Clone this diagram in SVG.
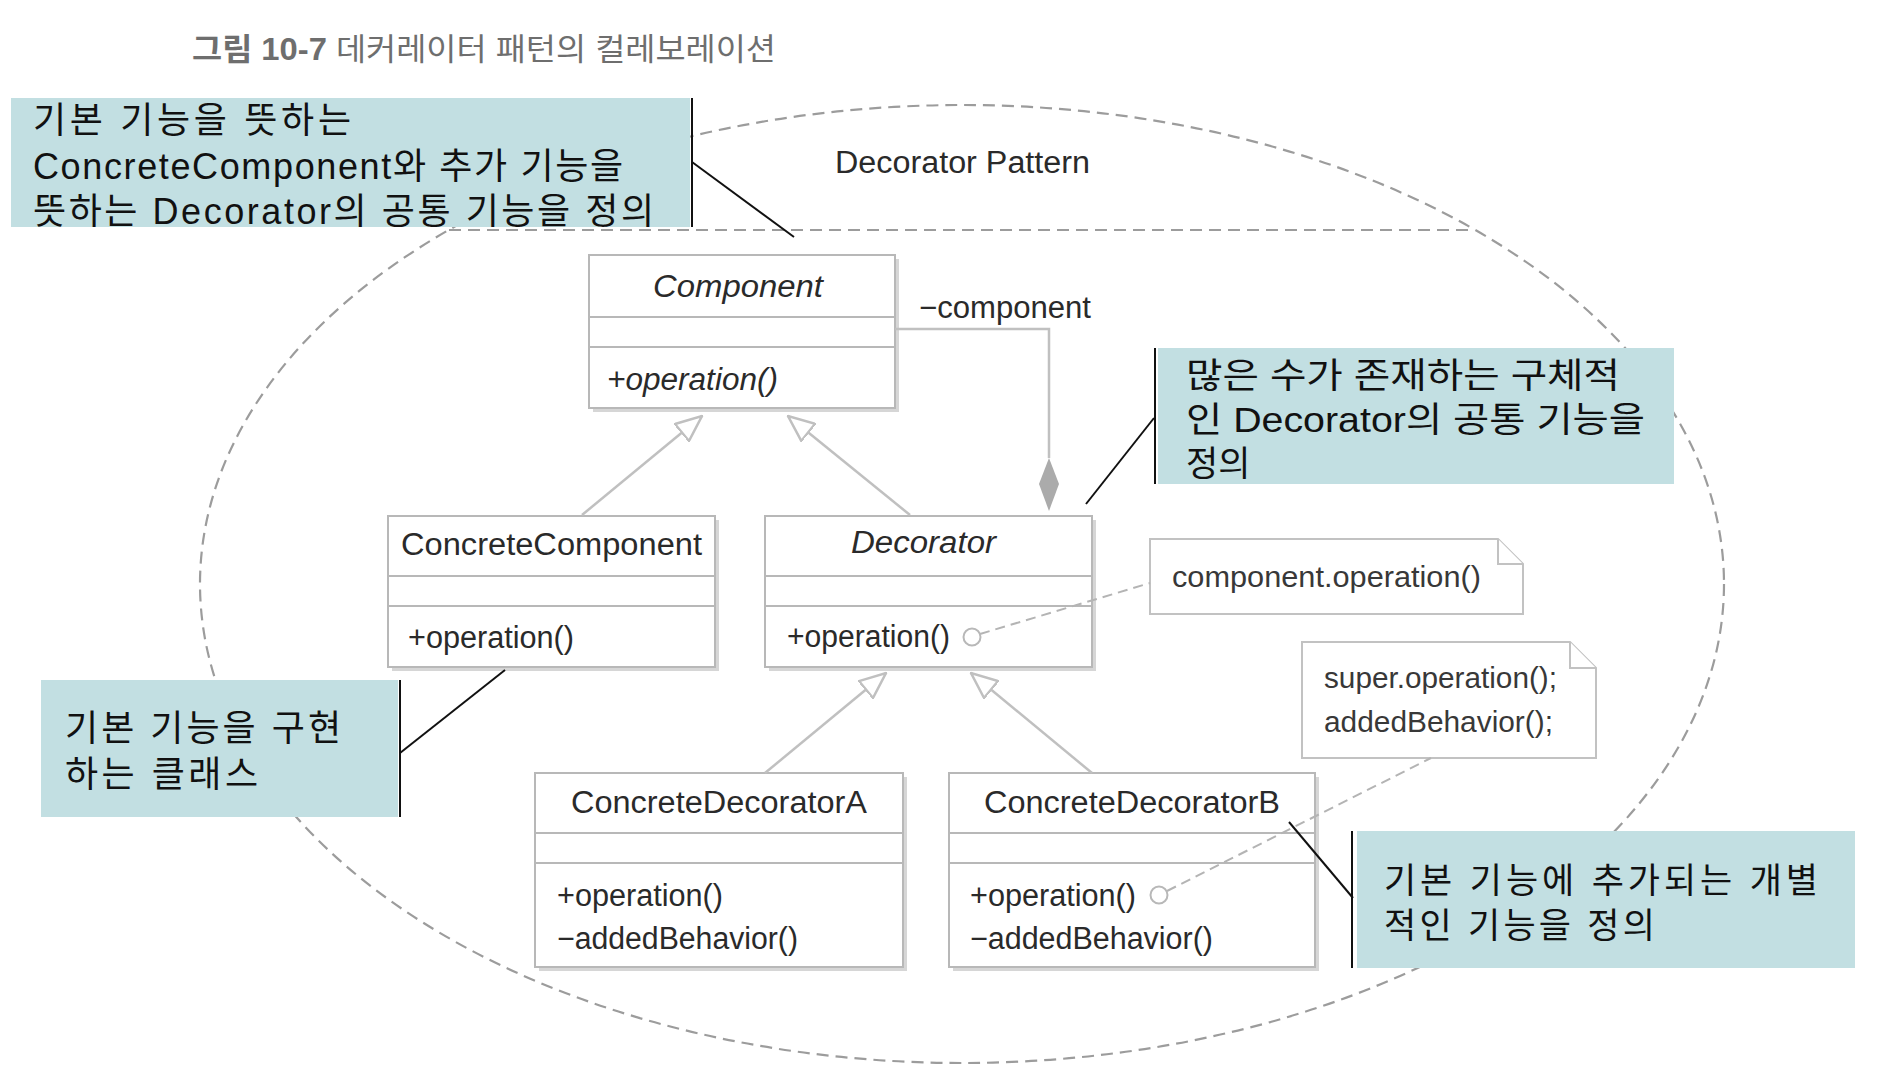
<svg xmlns="http://www.w3.org/2000/svg" width="1878" height="1082" viewBox="0 0 1878 1082">
<style>
.bg{fill:#fff}
.box{fill:#fff;stroke:#b8b8b8;stroke-width:2}
.shadow{fill:#d6d6d6}
.div{stroke:#b8b8b8;stroke-width:2}
.uml{font-family:"Liberation Sans",Arial,sans-serif;font-size:31px;fill:#2a2a2a}
.it{font-style:italic}
.note{fill:#fff;stroke:#c2c2c2;stroke-width:2}
.ntext{font-family:"Liberation Sans",Arial,sans-serif;font-size:30px;fill:#383838}
.callout{fill:#c2dfe2}
.ctext{font-family:"Liberation Sans","Noto Sans CJK KR",sans-serif;fill:#111}
.lead{stroke:#111;stroke-width:2;fill:none}
.gen{stroke:#c0c0c0;stroke-width:2.5;fill:none}
.dash{stroke:#b4b4b4;stroke-width:2;stroke-dasharray:10 6;fill:none}
.ell{stroke:#9c9c9c;stroke-width:2.2;stroke-dasharray:12 7;fill:none}
.title{font-family:"Liberation Sans","Noto Sans CJK KR",sans-serif;font-size:31px;fill:#6e6e6e}
</style>
<defs>
<marker id="tri" viewBox="0 0 28 24" refX="27" refY="12" markerWidth="28" markerHeight="24" markerUnits="userSpaceOnUse" orient="auto">
<path d="M1,1 L27,12 L1,23 Z" fill="#fff" stroke="#c0c0c0" stroke-width="2.5"/>
</marker>
</defs>
<rect class="bg" x="0" y="0" width="1878" height="1082"/>

<text class="title" x="192" y="60" textLength="584" lengthAdjust="spacingAndGlyphs"><tspan font-weight="bold">그림 10-7</tspan> 데커레이터 패턴의 컬레보레이션</text>

<g id="boundary">
<ellipse class="ell" cx="962" cy="584" rx="762" ry="479"/>
<line class="ell" x1="449" y1="230" x2="1475" y2="230"/>
<text class="uml" x="835" y="173" font-size="30" textLength="255" lengthAdjust="spacingAndGlyphs">Decorator Pattern</text>
</g>

<g id="component">
<rect class="shadow" x="593" y="259" width="306" height="153"/>
<rect class="box" x="589" y="255" width="306" height="153"/>
<line class="div" x1="589" y1="317" x2="895" y2="317"/>
<line class="div" x1="589" y1="347" x2="895" y2="347"/>
<text class="uml it" x="653" y="297" textLength="170" lengthAdjust="spacingAndGlyphs">Component</text>
<text class="uml it" x="607" y="390" textLength="171" lengthAdjust="spacingAndGlyphs">+operation()</text>
</g>

<g id="concreteComponent">
<rect class="shadow" x="392" y="520" width="327" height="151"/>
<rect class="box" x="388" y="516" width="327" height="151"/>
<line class="div" x1="388" y1="576" x2="715" y2="576"/>
<line class="div" x1="388" y1="606" x2="715" y2="606"/>
<text class="uml" x="401" y="555" textLength="301" lengthAdjust="spacingAndGlyphs">ConcreteComponent</text>
<text class="uml" x="408" y="648" textLength="166" lengthAdjust="spacingAndGlyphs">+operation()</text>
</g>

<g id="decorator">
<rect class="shadow" x="769" y="520" width="327" height="151"/>
<rect class="box" x="765" y="516" width="327" height="151"/>
<line class="div" x1="765" y1="576" x2="1092" y2="576"/>
<line class="div" x1="765" y1="606" x2="1092" y2="606"/>
<text class="uml it" x="851" y="553" textLength="145" lengthAdjust="spacingAndGlyphs">Decorator</text>
<text class="uml" x="787" y="647" textLength="163" lengthAdjust="spacingAndGlyphs">+operation()</text>
</g>

<g id="concreteDecoratorA">
<rect class="shadow" x="539" y="777" width="368" height="194"/>
<rect class="box" x="535" y="773" width="368" height="194"/>
<line class="div" x1="535" y1="833" x2="903" y2="833"/>
<line class="div" x1="535" y1="863" x2="903" y2="863"/>
<text class="uml" x="571" y="813" textLength="296" lengthAdjust="spacingAndGlyphs">ConcreteDecoratorA</text>
<text class="uml" x="557" y="906" textLength="166" lengthAdjust="spacingAndGlyphs">+operation()</text>
<text class="uml" x="557" y="949" textLength="241" lengthAdjust="spacingAndGlyphs">−addedBehavior()</text>
</g>

<g id="concreteDecoratorB">
<rect class="shadow" x="953" y="777" width="366" height="194"/>
<rect class="box" x="949" y="773" width="366" height="194"/>
<line class="div" x1="949" y1="833" x2="1315" y2="833"/>
<line class="div" x1="949" y1="863" x2="1315" y2="863"/>
<text class="uml" x="984" y="813" textLength="296" lengthAdjust="spacingAndGlyphs">ConcreteDecoratorB</text>
<text class="uml" x="970" y="906" textLength="166" lengthAdjust="spacingAndGlyphs">+operation()</text>
<text class="uml" x="970" y="949" textLength="243" lengthAdjust="spacingAndGlyphs">−addedBehavior()</text>
</g>

<g id="note1">
<path class="note" d="M1150,539 H1498 L1523,564 V614 H1150 Z"/>
<path class="note" d="M1498,539 V564 H1523"/>
<text class="ntext" x="1172" y="587" textLength="309" lengthAdjust="spacingAndGlyphs">component.operation()</text>
</g>

<g id="note2">
<path class="note" d="M1302,642 H1570 L1596,668 V758 H1302 Z"/>
<path class="note" d="M1570,642 V668 H1596"/>
<text class="ntext" x="1324" y="688" textLength="233" lengthAdjust="spacingAndGlyphs">super.operation();</text>
<text class="ntext" x="1324" y="732" textLength="229" lengthAdjust="spacingAndGlyphs">addedBehavior();</text>
</g>

<g id="connectors">
<line class="gen" x1="582" y1="515" x2="702" y2="416" marker-end="url(#tri)"/>
<line class="gen" x1="910" y1="515" x2="788" y2="416" marker-end="url(#tri)"/>
<line class="gen" x1="765" y1="773" x2="886" y2="673" marker-end="url(#tri)"/>
<line class="gen" x1="1092" y1="773" x2="971" y2="673" marker-end="url(#tri)"/>
<path class="gen" d="M895,329 H1049 V458"/>
<polygon points="1049,458 1059,484 1049,511 1039,484" fill="#ababab"/>
<text class="uml" x="919" y="318" textLength="172" lengthAdjust="spacingAndGlyphs">−component</text>
<line class="dash" x1="980" y1="634" x2="1150" y2="583"/>
<line class="dash" x1="1167" y1="891" x2="1431" y2="758"/>
<circle cx="972" cy="637" r="8.5" fill="#fff" stroke="#b8b8b8" stroke-width="2"/>
<circle cx="1159" cy="895" r="8.5" fill="#fff" stroke="#b8b8b8" stroke-width="2"/>
</g>

<g id="callout1">
<rect class="callout" x="11" y="98" width="679" height="129"/>
<line class="lead" x1="692" y1="98" x2="692" y2="227"/>
<line class="lead" x1="692" y1="162" x2="794" y2="237"/>
<text class="ctext" font-size="36" x="33" y="133" textLength="318">기본 기능을 뜻하는</text>
<text class="ctext" font-size="36" x="33" y="179" textLength="590">ConcreteComponent와 추가 기능을</text>
<text class="ctext" font-size="36" x="33" y="224" textLength="621">뜻하는 Decorator의 공통 기능을 정의</text>
</g>

<g id="callout2">
<rect class="callout" x="1158" y="348" width="516" height="136"/>
<line class="lead" x1="1155" y1="348" x2="1155" y2="484"/>
<line class="lead" x1="1154" y1="418" x2="1086" y2="504"/>
<text class="ctext" font-size="35" x="1186" y="388" textLength="434" lengthAdjust="spacingAndGlyphs">많은 수가 존재하는 구체적</text>
<text class="ctext" font-size="35" x="1186" y="432" textLength="459" lengthAdjust="spacingAndGlyphs">인 Decorator의 공통 기능을</text>
<text class="ctext" font-size="35" x="1186" y="476">정의</text>
</g>

<g id="callout3">
<rect class="callout" x="41" y="680" width="357" height="137"/>
<line class="lead" x1="400" y1="680" x2="400" y2="817"/>
<line class="lead" x1="400" y1="753" x2="505" y2="670"/>
<text class="ctext" font-size="36" x="65" y="741" textLength="276">기본 기능을 구현</text>
<text class="ctext" font-size="36" x="65" y="787" textLength="193">하는 클래스</text>
</g>

<g id="callout4">
<rect class="callout" x="1357" y="831" width="498" height="137"/>
<line class="lead" x1="1352" y1="831" x2="1352" y2="968"/>
<line class="lead" x1="1353" y1="898" x2="1289" y2="822"/>
<text class="ctext" font-size="35" x="1384" y="893" textLength="434">기본 기능에 추가되는 개별</text>
<text class="ctext" font-size="35" x="1384" y="938" textLength="271">적인 기능을 정의</text>
</g>
</svg>
